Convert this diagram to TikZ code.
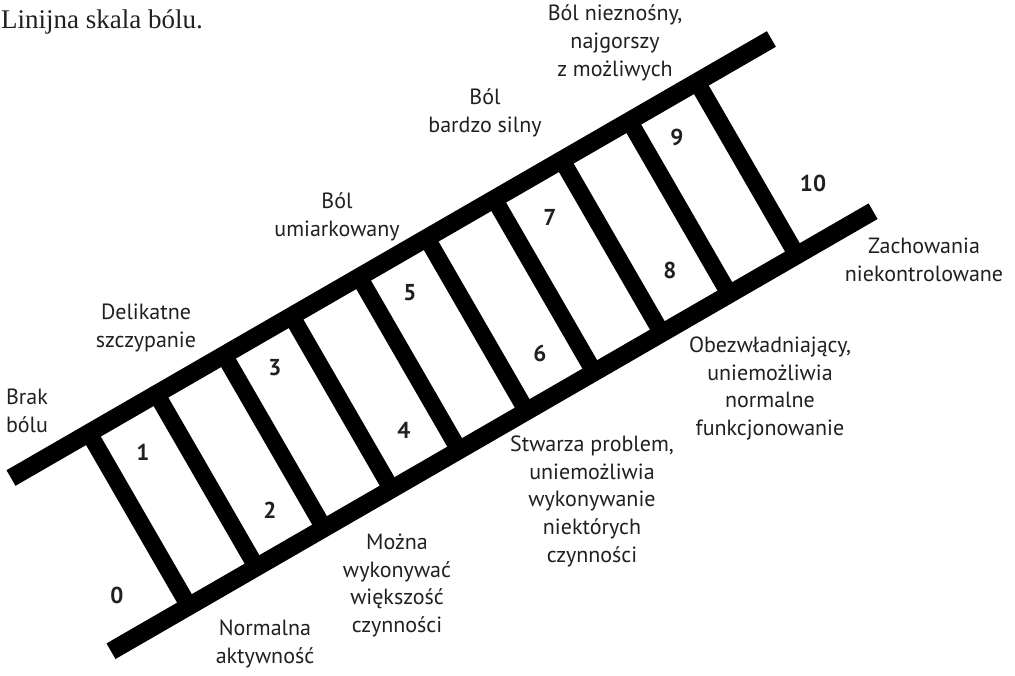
\documentclass[tikz,border=0pt]{standalone}
\usepackage{fontspec}
\setmainfont{Liberation Serif}
\newfontfamily\labelfont{PT Sans}
\definecolor{ink}{HTML}{231F20}
\begin{document}
\begin{tikzpicture}[x=1pt,y=1pt,
  lbl/.style={font=\labelfont\fontsize{22}{27.8}\selectfont, align=center, anchor=north,
              inner sep=0pt, execute at begin node=\strut, text=ink},
  num/.style={font=\labelfont\bfseries\fontsize{23}{26}\selectfont, inner sep=0pt, anchor=center, text=ink},
  rail/.style={line width=18pt, line cap=butt, black},
  rung/.style={line width=17pt, line cap=butt, black}]
\useasboundingbox (0,0) rectangle (1015,-675);
\fill[white] (0,0) rectangle (1015,-675);

% title
\node[font=\fontsize{27}{30}\selectfont, anchor=base west, inner sep=0pt, text=ink] (title) at (1,-28) {Linijna skala bólu.};

% ladder
\begin{scope}[shift={(11,-478)}, rotate=30]
  \coordinate (ua) at (0,0);
  \coordinate (ub) at (878,0);
  \coordinate (la) at (0,-200);
  \coordinate (lb) at (880,-200);
  \draw[rail] (ua) -- (ub);
  \draw[rail] (la) -- (lb);
  \foreach \k in {0,...,9} {
    \coordinate (rt\k) at (90+78*\k,0);
    \coordinate (rb\k) at (90+78*\k,-200);
    \draw[rung] (rt\k) -- (rb\k);
  }
\end{scope}

% numbers
\node[num] (n0) at (117,-595) {0};
\node[num] (n1) at (143,-452) {1};
\node[num] (n2) at (270,-510) {2};
\node[num] (n3) at (275,-368) {3};
\node[num] (n4) at (404,-430) {4};
\node[num] (n5) at (410,-293) {5};
\node[num] (n6) at (540,-353) {6};
\node[num] (n7) at (550,-217) {7};
\node[num] (n8) at (670,-270) {8};
\node[num] (n9) at (677,-137) {9};
\node[num] (n10) at (813,-183) {10};

% labels (y = first baseline - 19.46)
\node[lbl] (l0) at (27,-388.5) {Brak\\bólu};
\node[lbl] (l0b) at (265,-619.5) {Normalna\\aktywność};
\node[lbl] (l1) at (146,-303.5) {Delikatne\\szczypanie};
\node[lbl] (l2) at (397,-533.5) {Można\\wykonywać\\większość\\czynności};
\node[lbl] (l3) at (337,-192.5) {Ból\\umiarkowany};
\node[lbl] (l4) at (592,-435.5) {Stwarza problem,\\uniemożliwia\\wykonywanie\\niektórych\\czynności};
\node[lbl] (l5) at (485,-88.5) {Ból\\bardzo silny};
\node[lbl] (l6) at (770,-336.5) {Obezwładniający,\\uniemożliwia\\normalne\\funkcjonowanie};
\node[lbl] (l7) at (615,-4.5) {Ból nieznośny,\\najgorszy\\z możliwych};
\node[lbl] (l8) at (924,-237.5) {Zachowania\\niekontrolowane};
\end{tikzpicture}
\end{document}
